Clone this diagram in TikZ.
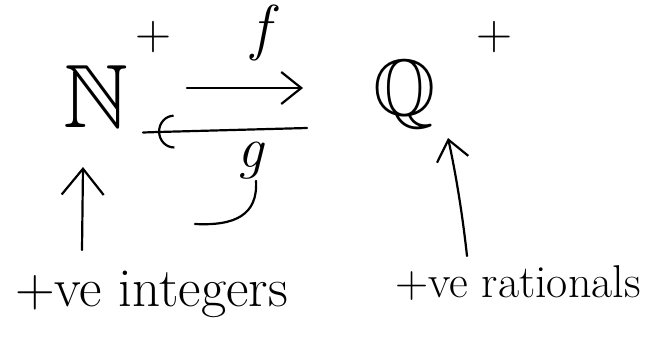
\documentclass[tikz,border=0pt]{standalone}
\usepackage{amssymb}
\usetikzlibrary{arrows.meta}
\tikzset{
  ink/.style={line width=2.2pt, line cap=round, line join=round, black},
  arrbig/.style={ink, -{Straight Barb[length=26pt,width=42pt]}},
  arrmid/.style={ink, -{Straight Barb[length=20pt,width=32pt]}},
  arrhook/.style={ink, -{Arc Barb[length=16pt,width=34pt]}},
  sz/.style={inner sep=0pt, outer sep=0pt, font=\fontsize{#1}{#1}\selectfont},
}
\begin{document}
\begin{tikzpicture}[x=1pt,y=-1pt]
\useasboundingbox (0,0) rectangle (652,348);
% sets
\node[sz=90] (N) at (96,96) {$\mathbb{N}$};
\node[sz=80, anchor=base] (Q) at (405,115) {$\mathbb{Q}$};
\node[sz=50] (Nplus) at (153,37) {+};
\node[sz=50] (Qplus) at (494,37) {+};
% maps
\node[sz=62] (f) at (265,33) {\textit{f}};
\node[sz=58, anchor=base] (g) at (251,167) {\textit{g}};
% labels
\node[sz=55, anchor=base west] (ints) at (15,306) {+ve integers};
\node[sz=46, anchor=base west] (rats) at (395,297) {+ve rationals};
% connector end points
\coordinate (fs) at (187,88);
\coordinate (fe) at (303,88);
\coordinate (gs) at (307,128);
\coordinate (ge) at (158,132);
\coordinate (is) at (82,250);
\coordinate (ie) at (83,167);
\coordinate (rs) at (467,256);
\coordinate (re) at (448,138);
\coordinate (gt) at (195,224);
% arrows
\draw[arrmid] (fs) -- (fe);
\draw[arrhook] (gs) -- (ge);
\draw[ink] (ge) -- ++(-15,0.5);
\draw[arrbig] (is) -- (ie);
\draw[arrmid] (rs) .. controls (462,210) and (455,170) .. (re);
% tail of g
\draw[ink] ([xshift=5pt,yshift=-2pt]g.south) .. controls (258,215) and (235,226) .. (gt);
\end{tikzpicture}
\end{document}
